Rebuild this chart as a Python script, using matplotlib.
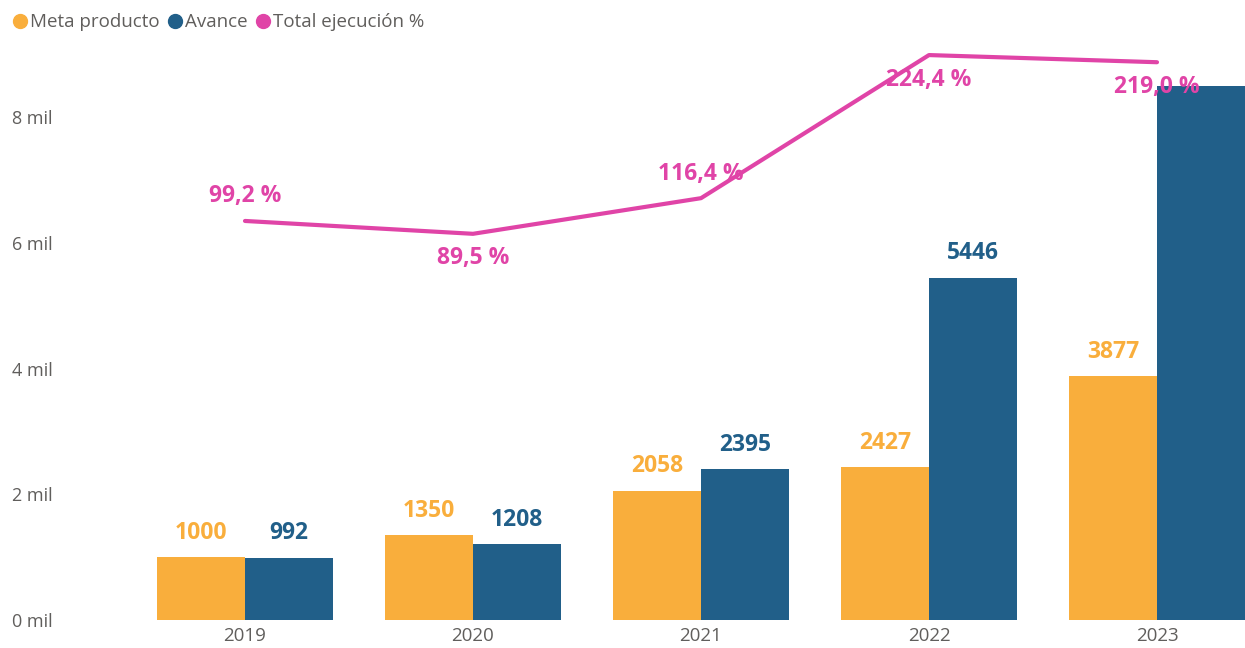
import matplotlib
matplotlib.use("Agg")
import matplotlib.pyplot as plt
from matplotlib.lines import Line2D
import numpy as np

years = ["2019", "2020", "2021", "2022", "2023"]
meta = [1000, 1350, 2058, 2427, 3877]
avance = [992, 1208, 2395, 5446, 8490]
ejecucion = [99.2, 89.5, 116.4, 224.4, 219.0]
pct_label_below = [False, True, False, True, True]
ytick_vals = [0, 2000, 4000, 6000, 8000]
ytick_labels = ["0 mil", "2 mil", "4 mil", "6 mil", "8 mil"]

ORANGE = "#F9AE3C"
BLUE = "#215F89"
PINK = "#E044A7"
GRAY = "#605E5C"

plt.rcParams['font.family'] = ['Open Sans', 'DejaVu Sans']

W, H = 1245, 648
fig = plt.figure(figsize=(W / 100, H / 100), dpi=100)
left_px, right_px, top_px, bottom_px = 131, 1245, 50, 620
ax = fig.add_axes([left_px / W, 1 - bottom_px / H, (right_px - left_px) / W, (bottom_px - top_px) / H])

x = np.arange(len(years))
bw = 0.386
ax.bar(x - bw / 2, meta, bw, color=ORANGE, zorder=2)
ax.bar(x + bw / 2, avance, bw, color=BLUE, zorder=2)

ymax = (bottom_px - top_px) / 62.875 * 1000
ax.set_ylim(0, ymax)
ax.set_xlim(-0.5, len(years) - 1 + bw)

LBL = 16.5
for i in range(len(years)):
    if meta[i] + 900 < ymax:
        ax.annotate(str(meta[i]), (x[i] - bw / 2, meta[i]), xytext=(0, 9), textcoords="offset points",
                    ha="center", va="bottom", color=ORANGE, fontsize=LBL, fontweight="bold")
    if avance[i] + 900 < ymax:
        ax.annotate(str(avance[i]), (x[i] + bw / 2, avance[i]), xytext=(0, 9), textcoords="offset points",
                    ha="center", va="bottom", color=BLUE, fontsize=LBL, fontweight="bold")

for s in ax.spines.values():
    s.set_visible(False)
ax.set_xticks(x)
ax.set_xticklabels(years)
ax.set_yticks(ytick_vals)
ax.set_yticklabels(ytick_labels, ha="left")
ax.tick_params(axis="x", length=0, pad=5, labelsize=13.5, labelcolor=GRAY)
ax.tick_params(axis="y", length=0, pad=(left_px - 12) * 0.72, labelsize=13, labelcolor=GRAY)

ax2 = ax.twinx()
slope = 1.325
icpt = 352.4
ax2.set_ylim((icpt - bottom_px) / slope, (icpt - top_px) / slope)
ax2.plot(x, ejecucion, color=PINK, lw=3, solid_capstyle="round", solid_joinstyle="round", zorder=3)
for i, v in enumerate(ejecucion):
    lab = f"{v:.1f}".replace(".", ",") + " %"
    if pct_label_below[i]:
        ax2.annotate(lab, (x[i], v), xytext=(0, -9), textcoords="offset points", ha="center", va="top",
                     color=PINK, fontsize=LBL, fontweight="bold", zorder=4)
    else:
        ax2.annotate(lab, (x[i], v), xytext=(0, 9), textcoords="offset points", ha="center", va="bottom",
                     color=PINK, fontsize=LBL, fontweight="bold", zorder=4)
ax2.set_yticks([])
for s in ax2.spines.values():
    s.set_visible(False)
ax2.set_zorder(ax.get_zorder() + 1)
ax2.patch.set_visible(False)

handles = [Line2D([], [], marker="o", linestyle="", color=c, markersize=10) for c in (ORANGE, BLUE, PINK)]
fig.legend(handles, ["Meta producto", "Avance", "Total ejecución %"], loc="upper left",
           bbox_to_anchor=(0.002, 0.997), ncol=3, frameon=False, fontsize=13.5, labelcolor=GRAY,
           handlelength=0.7, handletextpad=0.15, columnspacing=0.5, borderaxespad=0.2)

fig.savefig("out.png", dpi=100)
